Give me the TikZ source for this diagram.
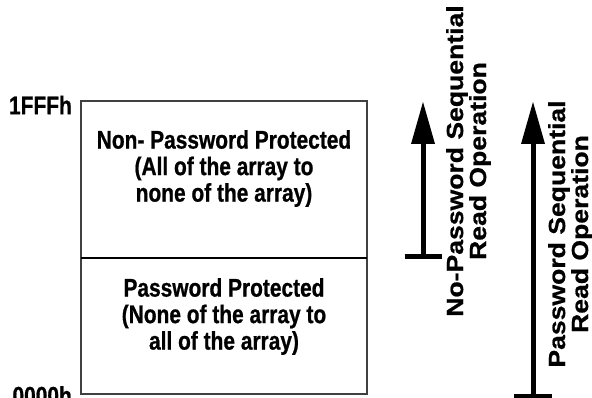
\documentclass[tikz,border=0pt]{standalone}
\usepackage{fontspec}
\setmainfont{Liberation Sans}
\newfontfamily\flatfont{Liberation Sans}[FakeStretch=0.82, FakeBold=0.8]
\newfontfamily\tallfont{Liberation Sans}[FakeStretch=1.14, FakeBold=0.8]
\usetikzlibrary{arrows.meta}
\usetikzlibrary{positioning}

\begin{document}
\begin{tikzpicture}
			[
				x = 1pt, y = -1pt,
				region/.style = {rectangle, draw = black!75, line width = 1.5pt, minimum width = 286pt, inner sep = 0pt, outer sep = 0pt},
				regiontext/.style = {align = center, font = \flatfont\bfseries\fontsize{25.5}{26.5}\selectfont},
				addrtext/.style = {anchor = east, inner sep = 0pt, font = \flatfont\bfseries\fontsize{25.5}{26.5}\selectfont},
				readop/.style = {line width = 5pt, -{Triangle[length = 42pt, width = 24pt, line width = 0pt]}},
				tee/.style = {line width = 5pt},
				optext/.style = {rotate = 90, align = center, font = \tallfont\bfseries\fontsize{23.3}{23}\selectfont},
			]
			\clip (0,0) rectangle (592,398);
			\useasboundingbox (0,0) rectangle (592,398);
			\node (upper) [region, minimum height = 157pt] at (224,179.5) {};
			\node (lower) [region, minimum height = 136pt, below = 0pt of upper] {};
			\draw [line width = 2.5pt] (upper.south west) -- (upper.south east);
			\node (nppText) [regiontext] at (224,168.5) {Non- Password Protected\\(All of the array to\\none of the array)};
			\node (ppText) [regiontext] at (224,316.5) {Password Protected\\(None of the array to\\all of the array)};
			\node (top) [addrtext] at (72,105) {1FFFh};
			\node (bottom) [addrtext] at (72,395.5) {0000h};
			\coordinate (npBase) at (423,256.5);
			\coordinate (npTip) at (423,102);
			\coordinate (pBase) at (533,396);
			\coordinate (pTip) at (533,102);
			\draw [tee] ([xshift = -18.5pt] npBase) -- ([xshift = 18.5pt] npBase);
			\draw [tee] ([xshift = -19pt] pBase) -- ([xshift = 19pt] pBase);
			\draw [readop] (npBase) -- (npTip);
			\draw [readop] (pBase) -- (pTip);
			\node (npText) [optext] at (468.5,161) {No-Password Sequential\\Read Operation};
			\node (pText) [optext] at (570.5,234) {Password Sequential\\Read Operation};
		\end{tikzpicture}
\end{document}
